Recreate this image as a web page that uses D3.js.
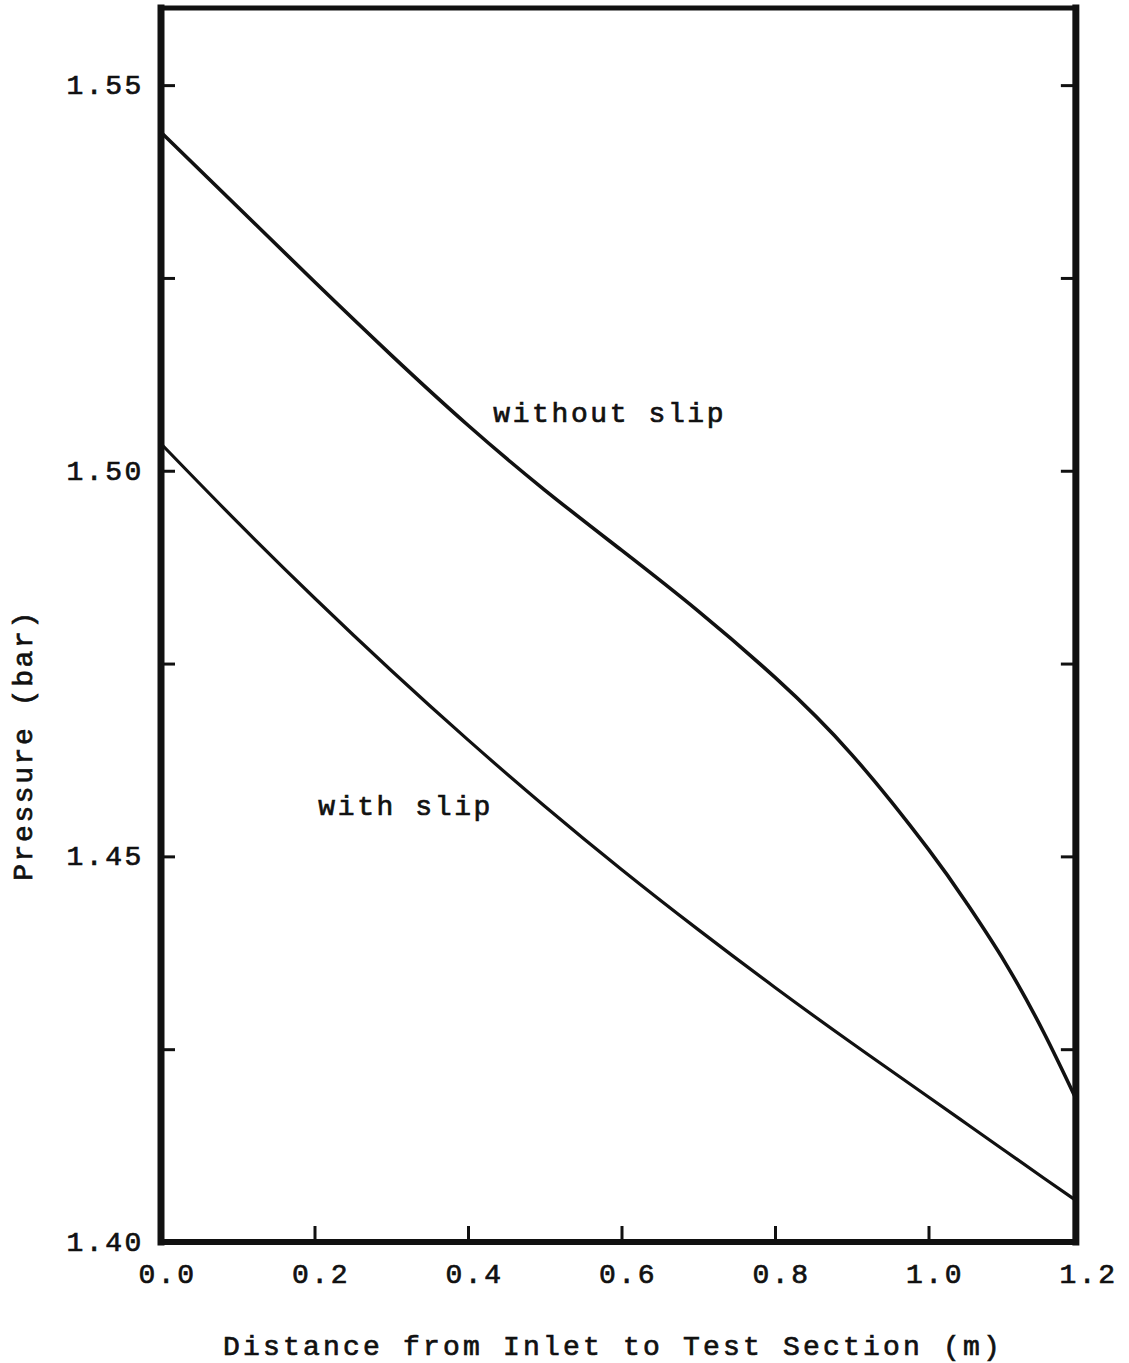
<!DOCTYPE html>
<html>
<head>
<meta charset="utf-8">
<script src="https://cdn.jsdelivr.net/npm/d3@7"></script>
<style>
  body { margin: 0; background: #fff; }
  svg { display: block; }
  text { font-family: "Liberation Mono", "Courier New", monospace; fill: #111; }
</style>
</head>
<body>
<svg id="chart"></svg>
<script>
// distance from inlet (m) where the curves were read
const distance = [0, 0.1, 0.2, 0.3, 0.4, 0.5, 0.6, 0.7, 0.8, 0.9, 1.0, 1.05, 1.1, 1.15, 1.192];
// pressure (bar)
const withoutSlip = [1.5439, 1.5342, 1.5245, 1.5150, 1.5059, 1.4975, 1.4897, 1.4818, 1.4732, 1.4632, 1.4509, 1.4439, 1.4362, 1.4272, 1.4186];
const withSlip = [1.5035, 1.4933, 1.4835, 1.4741, 1.4651, 1.4565, 1.4483, 1.4405, 1.4330, 1.4258, 1.4188, 1.4153, 1.4118, 1.4083, 1.4054];

const xTicks = [0, 0.2, 0.4, 0.6, 0.8, 1.0, 1.2];
const yTicks = [1.40, 1.425, 1.45, 1.475, 1.50, 1.525, 1.55];
const labels = [
  { text: "without slip", x: 0.433, y: 1.5063 },
  { text: "with slip", x: 0.205, y: 1.4554 }
];

const width = 1129, height = 1363;
const xMax = 1.192;

const x = d3.scaleLinear().domain([0, 1.2]).range([161, 1082]);
const y = d3.scaleLinear().domain([1.40, 1.56]).range([1242, 8]);

const svg = d3.select("#chart")
  .attr("width", width)
  .attr("height", height);

const textStyle = (sel, size, spacing) => sel
  .attr("font-size", size)
  .attr("letter-spacing", spacing)
  .attr("stroke", "#111")
  .attr("stroke-width", 0.7);

// left axis: inward ticks, labels every 0.05
const yAxis = d3.axisLeft(y)
  .tickValues(yTicks)
  .tickSize(-14)
  .tickPadding(17)
  .tickFormat(d => Math.abs(d * 20 - Math.round(d * 20)) < 1e-6 ? d3.format(".2f")(d) : "");

svg.append("g")
  .attr("transform", `translate(${x(0)},0)`)
  .call(yAxis)
  .call(g => g.select(".domain").remove())
  .call(g => g.selectAll(".tick line").attr("stroke", "#111").attr("stroke-width", 3))
  .call(g => g.selectAll(".tick text")
    .attr("dy", "0.3em")
    .attr("font-family", null)
    .call(textStyle, 28, 2.6));

// right axis: ticks only
svg.append("g")
  .attr("transform", `translate(${x(xMax)},0)`)
  .call(d3.axisRight(y).tickValues(yTicks).tickSize(-15).tickFormat(""))
  .call(g => g.select(".domain").remove())
  .call(g => g.selectAll(".tick line").attr("stroke", "#111").attr("stroke-width", 3));

// bottom axis, tick marks only between the frame edges
svg.append("g")
  .attr("transform", `translate(0,${y(1.40)})`)
  .call(d3.axisBottom(x).tickValues(xTicks).tickSize(-16).tickFormat(d3.format(".1f")))
  .call(g => g.select(".domain").remove())
  .call(g => g.selectAll(".tick line")
    .attr("stroke", "#111")
    .attr("stroke-width", 3)
    .attr("display", d => (d > 0 && d < 1.19) ? null : "none"))
  .call(g => g.selectAll(".tick text")
    .attr("dy", null)
    .attr("y", 41)
    .attr("x", 6)
    .attr("font-family", null)
    .call(textStyle, 28, 2.6));

// frame
const frame = svg.append("g").attr("stroke", "#111").attr("stroke-linecap", "square");
frame.append("line").attr("x1", x(0)).attr("x2", x(0)).attr("y1", y(1.56)).attr("y2", y(1.40)).attr("stroke-width", 7);
frame.append("line").attr("x1", x(xMax)).attr("x2", x(xMax)).attr("y1", y(1.56)).attr("y2", y(1.40)).attr("stroke-width", 7);
frame.append("line").attr("x1", x(0)).attr("x2", x(xMax)).attr("y1", y(1.40)).attr("y2", y(1.40)).attr("stroke-width", 6);
frame.append("line").attr("x1", x(0)).attr("x2", x(xMax)).attr("y1", y(1.56)).attr("y2", y(1.56)).attr("stroke-width", 5);

// curves
const line = d3.line()
  .x((d, i) => x(distance[i]))
  .y(d => y(d))
  .curve(d3.curveNatural);

svg.append("path")
  .datum(withoutSlip)
  .attr("d", line)
  .attr("fill", "none")
  .attr("stroke", "#111")
  .attr("stroke-width", 3.6);

svg.append("path")
  .datum(withSlip)
  .attr("d", line)
  .attr("fill", "none")
  .attr("stroke", "#111")
  .attr("stroke-width", 3.2);

// curve labels
svg.selectAll(".curve-label")
  .data(labels)
  .join("text")
  .attr("class", "curve-label")
  .attr("x", d => x(d.x))
  .attr("y", d => y(d.y))
  .text(d => d.text)
  .call(textStyle, 28, 2.6);

// axis titles
svg.append("text")
  .attr("x", 613)
  .attr("y", 1355)
  .attr("text-anchor", "middle")
  .text("Distance from Inlet to Test Section (m)")
  .call(textStyle, 28, 3.2);

svg.append("text")
  .attr("transform", "translate(32,745) rotate(-90)")
  .attr("text-anchor", "middle")
  .text("Pressure (bar)")
  .call(textStyle, 28, 2.6);
</script>
</body>
</html>
